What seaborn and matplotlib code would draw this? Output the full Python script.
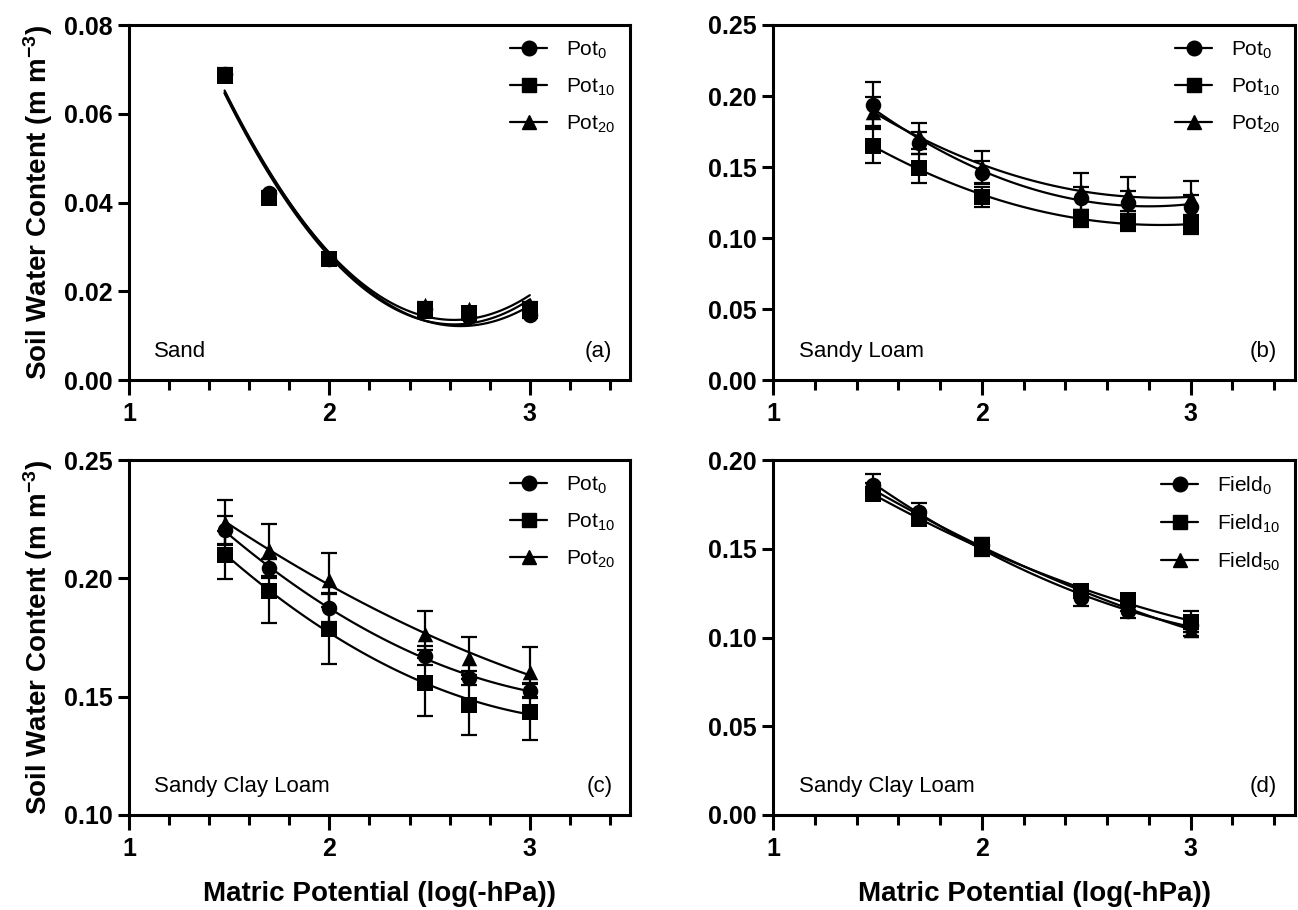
import numpy as np
import pandas as pd
import matplotlib
matplotlib.use("Agg")
import matplotlib.pyplot as plt
import seaborn as sns
from matplotlib.lines import Line2D
from matplotlib.ticker import MultipleLocator, FormatStrFormatter

# ---------------- data ----------------
x_vals = [1.477, 1.699, 2.0, 2.477, 2.699, 3.0]

# (a) Sand
a_pot0 = [0.0690, 0.0422, 0.0272, 0.0160, 0.0142, 0.0146]
a_pot10 = [0.0685, 0.0410, 0.0272, 0.0155, 0.0150, 0.0160]
a_pot20 = [0.0688, 0.0415, 0.0274, 0.0170, 0.0160, 0.0168]
a_err0 = [0.0012, 0.0005, 0.0004, 0.0005, 0.0005, 0.0007]
a_err10 = [0.0012, 0.0005, 0.0004, 0.0005, 0.0005, 0.0007]
a_err20 = [0.0012, 0.0005, 0.0004, 0.0005, 0.0005, 0.0007]

# (b) Sandy Loam
b_pot0 = [0.194, 0.167, 0.146, 0.128, 0.125, 0.122]
b_pot10 = [0.165, 0.149, 0.129, 0.114, 0.111, 0.109]
b_pot20 = [0.189, 0.172, 0.150, 0.133, 0.131, 0.128]
b_err0 = [0.016, 0.008, 0.008, 0.008, 0.008, 0.008]
b_err10 = [0.012, 0.010, 0.007, 0.006, 0.006, 0.006]
b_err20 = [0.010, 0.009, 0.0115, 0.013, 0.012, 0.012]

# (c) Sandy Clay Loam (pot)
c_pot0 = [0.2204, 0.2043, 0.1874, 0.1672, 0.1580, 0.1525]
c_pot10 = [0.2099, 0.1947, 0.1786, 0.1558, 0.1465, 0.1437]
c_pot20 = [0.2234, 0.2120, 0.1993, 0.1764, 0.1663, 0.1605]
c_err0 = [0.006, 0.004, 0.006, 0.004, 0.003, 0.003]
c_err10 = [0.010, 0.0135, 0.015, 0.014, 0.0125, 0.012]
c_err20 = [0.0095, 0.011, 0.0114, 0.010, 0.009, 0.0105]

# (d) Sandy Clay Loam (field)
d_f0 = [0.186, 0.1705, 0.152, 0.122, 0.115, 0.107]
d_f10 = [0.181, 0.1665, 0.151, 0.126, 0.121, 0.109]
d_f50 = [0.184, 0.168, 0.152, 0.125, 0.118, 0.104]
d_err0 = [0.006, 0.005, 0.004, 0.004, 0.004, 0.004]
d_err10 = [0.003, 0.003, 0.005, 0.002, 0.002, 0.006]
d_err50 = [0.003, 0.003, 0.003, 0.003, 0.003, 0.003]

pot_labels = ["Pot$_{0}$", "Pot$_{10}$", "Pot$_{20}$"]
field_labels = ["Field$_{0}$", "Field$_{10}$", "Field$_{50}$"]
soil_names = ["Sand", "Sandy Loam", "Sandy Clay Loam", "Sandy Clay Loam"]
panel_tags = ["(a)", "(b)", "(c)", "(d)"]
y_limits = [(0, 0.08), (0, 0.25), (0.10, 0.25), (0, 0.20)]
y_steps = [0.02, 0.05, 0.05, 0.05]

panels = [
    ([a_pot0, a_pot10, a_pot20], [a_err0, a_err10, a_err20], pot_labels),
    ([b_pot0, b_pot10, b_pot20], [b_err0, b_err10, b_err20], pot_labels),
    ([c_pot0, c_pot10, c_pot20], [c_err0, c_err10, c_err20], pot_labels),
    ([d_f0, d_f10, d_f50], [d_err0, d_err10, d_err50], field_labels),
]
markers = ["o", "s", "^"]

# ---------------- style ----------------
sns.set_theme(style="ticks", rc={
    "text.color": "black", "axes.labelcolor": "black",
    "xtick.color": "black", "ytick.color": "black",
    "axes.edgecolor": "black"})
plt.rcParams["font.family"] = ["Liberation Sans", "DejaVu Sans"]
plt.rcParams["mathtext.fontset"] = "custom"
plt.rcParams["mathtext.rm"] = "Liberation Sans"
plt.rcParams["mathtext.it"] = "Liberation Sans:italic"
plt.rcParams["mathtext.bf"] = "Liberation Sans:bold"
plt.rcParams["mathtext.default"] = "rm"

W, H = 1298, 910
fig = plt.figure(figsize=(W / 100, H / 100), dpi=100)

boxes = [(129, 630, 25, 380), (773, 1295, 25, 380),
         (129, 630, 460, 815), (773, 1295, 460, 815)]

for i, (box, (series, errs, labels)) in enumerate(zip(boxes, panels)):
    l, r, t, b = box
    ax = fig.add_axes([l / W, 1 - b / H, (r - l) / W, (b - t) / H])
    for k in range(3):
        df = pd.DataFrame({"x": x_vals, "y": series[k], "err": errs[k]})
        sns.regplot(data=df, x="x", y="y", order=2, ci=None, scatter=False,
                    truncate=True, ax=ax,
                    line_kws=dict(color="black", lw=1.6, zorder=2))
        ax.errorbar(df["x"], df["y"], yerr=df["err"], fmt="none",
                    ecolor="black", elinewidth=1.6, capsize=5.5,
                    capthick=1.6, zorder=3)
        sns.scatterplot(data=df, x="x", y="y", marker=markers[k], color="black",
                        s=125, edgecolor="black", linewidth=0, ax=ax, zorder=4)
    ax.set_xlim(1, 3.5)
    ax.set_ylim(*y_limits[i])
    ax.xaxis.set_major_locator(MultipleLocator(1))
    ax.xaxis.set_minor_locator(MultipleLocator(0.2))
    ax.yaxis.set_major_locator(MultipleLocator(y_steps[i]))
    ax.yaxis.set_major_formatter(FormatStrFormatter("%.2f"))
    ax.tick_params(axis="x", which="major", length=11, width=2.2, pad=5,
                   direction="out", labelsize=18)
    ax.tick_params(axis="x", which="minor", length=7, width=2.2, direction="out")
    ax.tick_params(axis="y", which="major", length=8, width=2.2, pad=4,
                   direction="out", labelsize=18)
    for lab in ax.get_xticklabels() + ax.get_yticklabels():
        lab.set_fontweight("bold")
    for sp in ax.spines.values():
        sp.set_linewidth(2.2)
        sp.set_color("black")
    ax.set_xlabel("")
    ax.set_ylabel("")
    if i in (0, 2):
        ax.set_ylabel("Soil Water Content (m m$^{\\mathbf{-3}}$)", fontsize=20,
                      fontweight="bold", labelpad=6)
    if i in (2, 3):
        ax.set_xlabel("Matric Potential (log(-hPa))", fontsize=20,
                      fontweight="bold", labelpad=14)
    ax.text(0.05, 0.05, soil_names[i], transform=ax.transAxes, fontsize=16,
            ha="left", va="bottom")
    ax.text(0.965, 0.05, panel_tags[i], transform=ax.transAxes, fontsize=16,
            ha="right", va="bottom")
    handles = [Line2D([0], [0], color="black", lw=1.6, marker=m, markersize=10.5)
               for m in markers]
    ax.legend(handles, labels, loc="upper right", frameon=False, fontsize=15,
              handlelength=1.8, handletextpad=0.9, labelspacing=0.75,
              borderaxespad=0.3)

fig.savefig("out.png", dpi=100)
